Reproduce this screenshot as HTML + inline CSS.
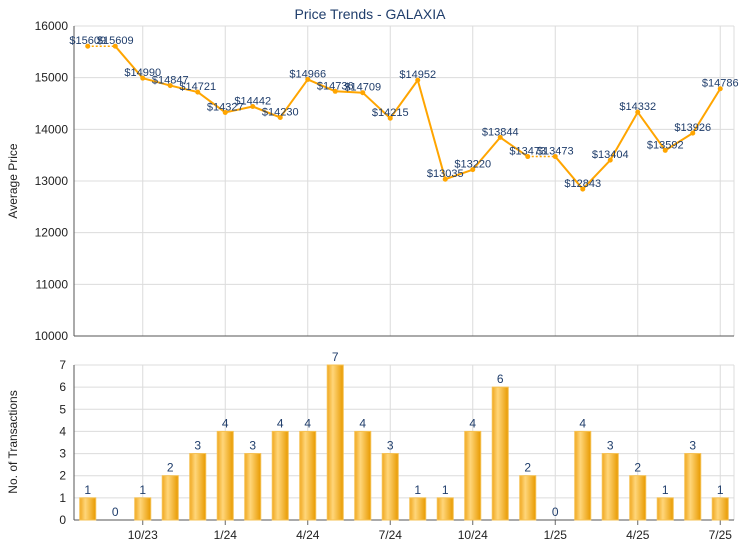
<!DOCTYPE html>
<html><head><meta charset="utf-8"><style>
body{margin:0;background:#fff;font-family:"Liberation Sans",sans-serif}
</style></head><body>
<svg id="c" width="740" height="550" xmlns="http://www.w3.org/2000/svg" font-family="Liberation Sans, sans-serif">
<defs>
<linearGradient id="bg" x1="0" x2="1" y1="0" y2="0">
<stop offset="0" stop-color="#f0a820"/><stop offset="0.35" stop-color="#ffd67a"/><stop offset="1" stop-color="#e89a00"/>
</linearGradient>
</defs>
<text x="370" y="19" text-anchor="middle" font-size="14" fill="#1f3d6b">Price Trends - GALAXIA</text>
<g id="grid"></g>
<g id="marks"></g>
</svg>
<script>
const months=['8/23','9/23','10/23','11/23','12/23','1/24','2/24','3/24','4/24','5/24','6/24','7/24','8/24','9/24','10/24','11/24','12/24','1/25','2/25','3/25','4/25','5/25','6/25','7/25'];
const prices=[15609,15609,14990,14847,14721,14327,14442,14230,14966,14736,14709,14215,14952,13035,13220,13844,13473,13473,12843,13404,14332,13592,13926,14786];
const counts=[1,0,1,2,3,4,3,4,4,7,4,3,1,1,4,6,2,0,4,3,2,1,3,1];
const priceTicks=[10000,11000,12000,13000,14000,15000,16000];
const countTicks=[0,1,2,3,4,5,6,7];
const xTickIdx=[2,5,8,11,14,17,20,23];

const NS='http://www.w3.org/2000/svg';
const L=74,R=734,T1=26,B1=336,T2=365,B2=520;
const slot=(R-L)/months.length;
const x=i=>L+slot*(i+0.5);
const yP=v=>B1-(v-10000)/6000*(B1-T1);
const yC=v=>B2-v/7*(B2-T2);
const g=document.getElementById('grid'),m=document.getElementById('marks');
function el(tag,a,p,txt){const e=document.createElementNS(NS,tag);for(const k in a)e.setAttribute(k,a[k]);if(txt!==undefined)e.textContent=txt;p.appendChild(e);return e;}

priceTicks.forEach(v=>{
 const l=el('line',{x1:L,x2:R,y1:yP(v),y2:yP(v),stroke:'#dcdcdc'},g);
 
 
 const t=el('text',{x:L-6,y:yP(v)+4,'text-anchor':'end','font-size':12,fill:'#222'},g,v);
 
 
});
countTicks.forEach(v=>{
 const l=el('line',{x1:L,x2:R,y1:yC(v),y2:yC(v),stroke:'#dcdcdc'},g);
 
 
 const t=el('text',{x:L-8,y:yC(v)+4,'text-anchor':'end','font-size':12,fill:'#222'},g,v);
 
 
});
xTickIdx.forEach(i=>{
 [[T1,B1],[T2,B2]].forEach(([a,b])=>{
  const l=el('line',{x1:x(i),x2:x(i),y1:a,y2:b,stroke:'#dcdcdc'},g);
  
  
 });
 el('line',{x1:x(i),x2:x(i),y1:B2,y2:B2+5,stroke:'#666'},g);
 const t=el('text',{x:x(i),y:B2+19,'text-anchor':'middle','font-size':12,fill:'#222'},g,months[i]);
 
 
});
el('line',{x1:L,x2:R,y1:T1,y2:T1,stroke:'#dcdcdc'},g);
el('line',{x1:R,x2:R,y1:T1,y2:B1,stroke:'#dcdcdc'},g);
el('line',{x1:R,x2:R,y1:T2,y2:B2,stroke:'#dcdcdc'},g);
el('line',{x1:L,x2:L,y1:T1,y2:B1,stroke:'#555'},g);
el('line',{x1:L,x2:R,y1:B1,y2:B1,stroke:'#555'},g);
el('line',{x1:L,x2:L,y1:T2,y2:B2,stroke:'#555'},g);
el('line',{x1:L,x2:R,y1:B2,y2:B2,stroke:'#555'},g);
let t=el('text',{x:17,y:181,'text-anchor':'middle','font-size':12,fill:'#222',transform:'rotate(-90 17 181)'},g,'Average Price');

t=el('text',{x:17,y:442,'text-anchor':'middle','font-size':12,fill:'#222',transform:'rotate(-90 17 442)'},g,'No. of Transactions');


counts.forEach((v,i)=>{
 if(v>0){
  const b=el('rect',{x:x(i)-8,y:yC(v),width:16,height:B2-yC(v),fill:'url(#bg)',stroke:'#f5c050','stroke-width':1},m);
  
  
 }
 const tl=el('text',{x:x(i),y:yC(v)-4,'text-anchor':'middle','font-size':12,fill:'#1f3d6b'},m,v);
 
 
});

for(let i=0;i<prices.length-1;i++){
 const dotted=counts[i+1]===0;
 const s=el('line',{x1:x(i),y1:yP(prices[i]),x2:x(i+1),y2:yP(prices[i+1]),stroke:'#ffa500','stroke-width':dotted?1.5:2,'stroke-dasharray':dotted?'2 2':'none'},m);
 
 
}
prices.forEach((v,i)=>{
 const c=el('circle',{cx:x(i),cy:yP(v),r:2.5,fill:'#ffa500'},m);
 
 
 const tl=el('text',{x:x(i),y:yP(v)-2,'text-anchor':'middle','font-size':11,fill:'#1f3d6b'},m,'$'+v);
 
 
});
</script>
</body></html>
